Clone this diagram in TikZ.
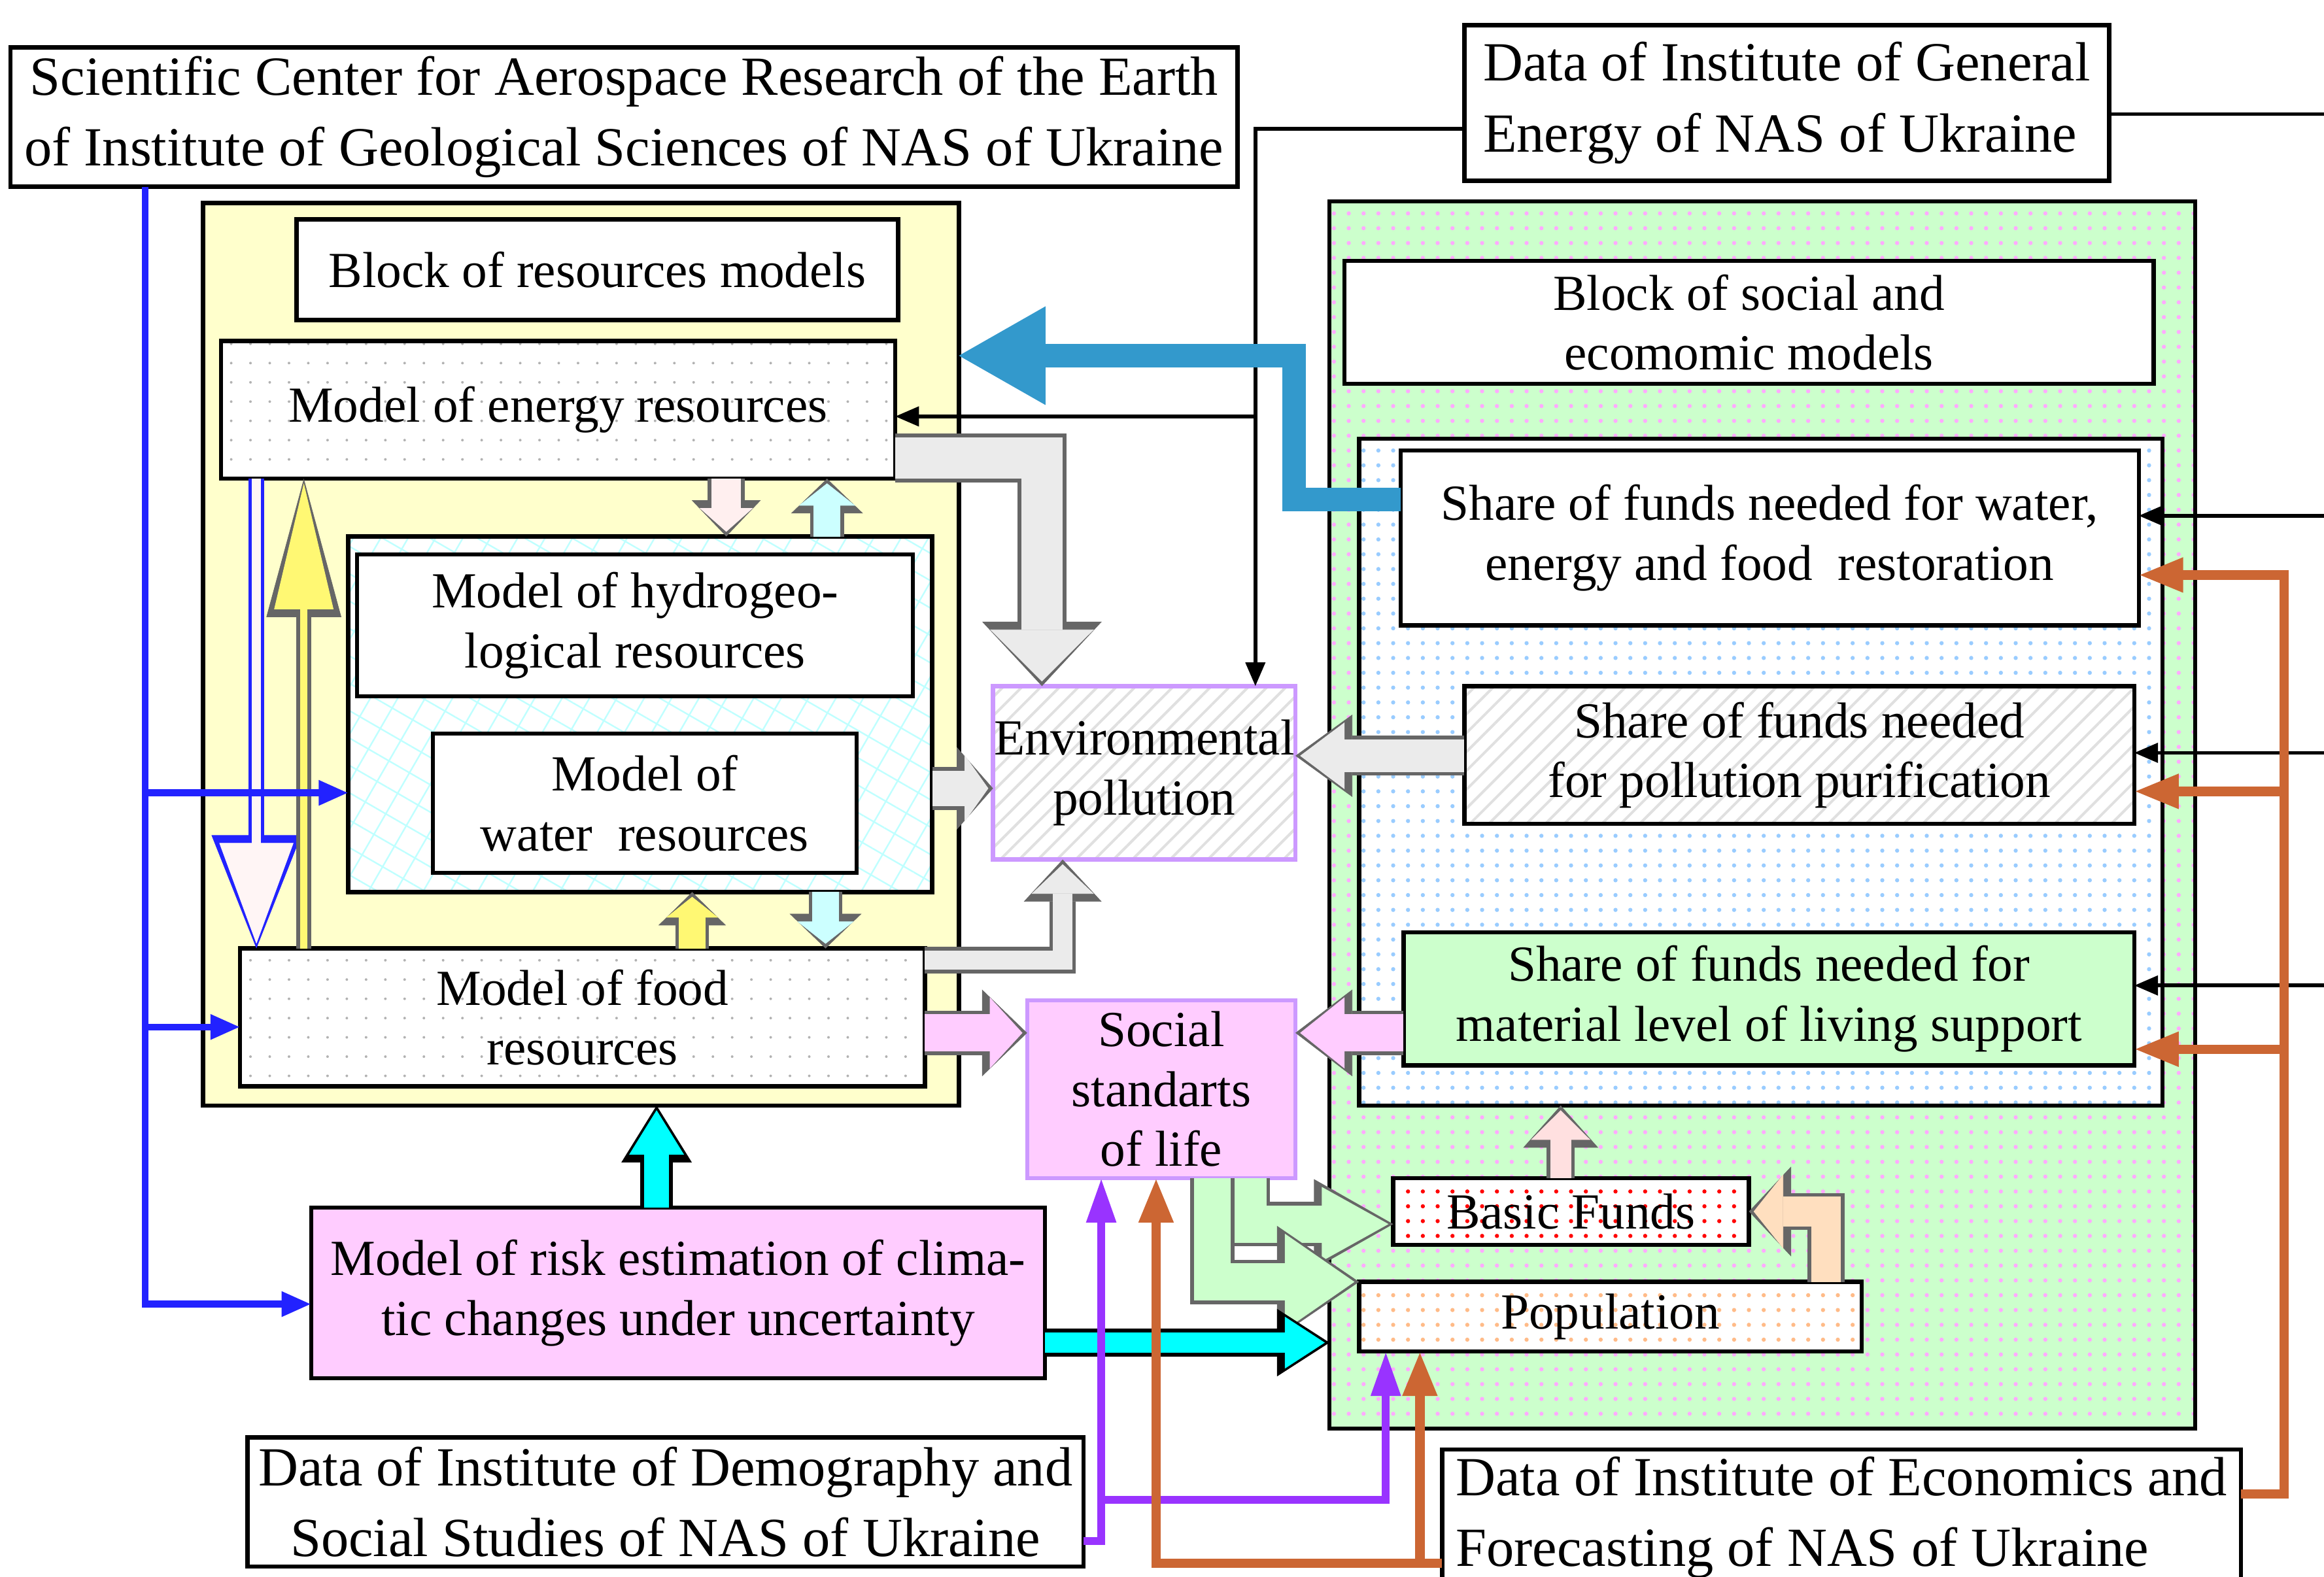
\documentclass[tikz,border=0pt]{standalone}
\usepackage{fontspec}
\setmainfont{Liberation Serif}
\usetikzlibrary{arrows.meta, patterns.meta}

\definecolor{resyellow}{HTML}{FFFFCC}
\definecolor{socgreen}{HTML}{CCFFCC}
\definecolor{pinkbox}{HTML}{FFCCFF}
\definecolor{lilac}{HTML}{CC99FF}
\definecolor{steelblue}{HTML}{3399CC}
\definecolor{rust}{HTML}{CC6633}
\definecolor{violet2}{HTML}{9933FF}
\definecolor{sciblue}{HTML}{2222FF}
\definecolor{aqua}{HTML}{00FFFF}
\definecolor{paleaqua}{HTML}{CCFFFF}
\definecolor{dotblue}{HTML}{99CCFF}
\definecolor{dotpink}{HTML}{FFAAFF}
\definecolor{dotorange}{HTML}{FFBB88}

\newcommand{\datafont}{\fontsize{10.6}{13.6}\selectfont}
\newcommand{\modfont}{\fontsize{9.7}{11.5}\selectfont}

\tikzset{
  wh/.style 2 args={minimum width=#1mm, minimum height=#2mm},
  box/.style={draw, line width=0.8pt, inner sep=0pt, outer sep=0pt, align=center, font=\modfont},
  databox/.style={box, fill=white, font=\datafont},
  dotted grid/.style={preaction={fill=white}, pattern={Dots[distance=1.3mm, radius=0.25pt]}, pattern color=black!30},
  hatched/.style={preaction={fill=white}, pattern={Lines[angle=45, distance=0.9mm, line width=0.5pt]}, pattern color=black!12},
  speckled/.style={preaction={fill=#1}, pattern={Dots[distance=1mm, radius=0.4pt]}},
  lilacbox/.style={box, draw=lilac},
  % thin connectors
  blkln/.style={draw=black, line width=0.7pt, -{Triangle[length=1.6mm, width=1.3mm]}},
  sciln/.style={draw=sciblue, line width=1.3pt, -{Triangle[length=2mm, width=1.6mm]}},
  violetln/.style={draw=violet2, line width=1.5pt, -{Triangle[length=3mm, width=1.9mm]}},
  rustln/.style={draw=rust, line width=1.8pt, -{Triangle[length=3mm, width=2.2mm]}},
  % block arrows: fill, outline, shaft, head width, head length
  fat/.style n args={5}{draw=#1, line width=#3, line join=miter, shorten >=0.9pt,
    -{Triangle[length=#5, width=#4, line width=0.1pt, color=#1, fill=#1]},
    preaction={draw=#2, line width=#3+1.4pt, shorten >=0pt,
      -{Triangle[length=#5+2.4pt, width=#4+3pt, line width=0.1pt, color=#2, fill=#2]}}},
}

\begin{document}
\begin{tikzpicture}[x=0.1mm, y=-0.1mm]
\useasboundingbox (0,0) rectangle (1568,1064);

% data sources
\node[databox, wh={82.8}{9.4}] (sci) at (421,79) {Scientific Center for Aerospace Research of the Earth\\of Institute of Geological Sciences of NAS of Ukraine};
\node[databox, wh={43.5}{10.5}, align=left] (gen) at (1205.5,69.5) {Data of Institute of General\\Energy of NAS of Ukraine};
\node[databox, wh={56.4}{8.7}] (demo) at (449,1013.5) {Data of Institute of Demography and\\Social Studies of NAS of Ukraine};
\node[databox, wh={53.9}{9.2}, align=left] (econ) at (1242.5,1024) {Data of Institute of Economics and\\Forecasting of NAS of Ukraine};

% block of resources models
\node[box, fill=resyellow, wh={51}{60.9}] (resblk) at (392,441.5) {};
\node[box, fill=white, wh={40.6}{6.8}] (resttl) at (403,182) {Block of resources models};
\node[box, dotted grid, wh={45.5}{9.3}] (energy) at (376.5,276.5) {Model of energy resources};
\node[box, preaction={fill=white}, pattern={Hatch[angle=60, distance=1.6mm, line width=0.3pt]}, pattern color=cyan!25, wh={39.4}{24}] (inner) at (432,482) {};
\node[box, fill=white, wh={37.5}{9.6}] (hydro) at (428.5,422) {Model of hydrogeo-\\logical resources};
\node[box, fill=white, wh={28.6}{9.4}] (water) at (435,542) {Model of\\water\ \ resources};
\node[box, dotted grid, wh={46.2}{9.3}] (food) at (393,686.5) {Model of food\\resources};

% block of social and economic models
\node[box, speckled=socgreen, pattern color=dotpink, wh={58.4}{82.8}] (socblk) at (1189,550) {};
\node[box, fill=white, wh={54.6}{8.3}] (socttl) at (1180,217.5) {Block of social and\\ecomomic models};
\node[box, speckled=white, pattern color=dotblue, wh={54.2}{45}] (shares) at (1188,521) {};
\node[box, fill=white, wh={49.8}{11.8}] (restor) at (1194,363) {Share of funds needed for water,\\energy and food\ \ restoration};
\node[box, hatched, wh={45.2}{9.3}] (purif) at (1214,509.5) {Share of funds needed\\for pollution purification};
\node[box, fill=socgreen, wh={49.3}{9}] (living) at (1193.5,674) {Share of funds needed for\\material level of living support};
\node[box, speckled=white, pattern color=red, wh={24}{4.5}] (funds) at (1060,817.5) {Basic Funds};
\node[box, speckled=white, pattern color=dotorange, wh={33.9}{4.7}] (popul) at (1086.5,888.5) {Population};

% middle column
\node[lilacbox, hatched, wh={20.4}{11.7}] (env) at (772,521.5) {Environmental\\pollution};
\node[lilacbox, fill=pinkbox, wh={18.1}{12}] (social) at (783.5,735) {Social\\standarts\\of life};
\node[box, fill=pinkbox, wh={49.5}{11.5}] (risk) at (457.5,872.5) {Model of risk estimation of clima-\\tic changes under uncertainty};

% free ends at the right border
\coordinate (rimA) at (1570,77);
\coordinate (rimB) at (1570,348);
\coordinate (rimC) at (1570,508);
\coordinate (rimD) at (1570,665);

% energy data
\draw[blkln] (gen.west |- 0,87) -| (847,0 |- env.north);
\draw[blkln] (847,281) -- (energy.east |- 0,281);
\draw[line width=0.7pt] (gen.east |- rimA) -- (rimA);
\draw[blkln] (rimB) -- (restor.east |- rimB);
\draw[blkln] (rimC) -- (purif.east |- rimC);
\draw[blkln] (rimD) -- (living.east |- rimD);

% inside the resources block
\draw[fat={pink!15}{sciblue}{0.6mm}{5mm}{6.8mm}] (173,0 |- energy.south) -- (173,0 |- food.north);
\draw[fat={yellow!55}{black!60}{0.5mm}{4mm}{8.5mm}] (205,0 |- food.north) -- (205,0 |- energy.south);
\draw[fat={pink!25}{black!60}{2mm}{3.6mm}{1.6mm}] (490,0 |- energy.south) -- (490,0 |- inner.north);
\draw[fat={paleaqua}{black!60}{1.8mm}{3.8mm}{1.5mm}] (558,0 |- inner.north) -- (558,0 |- energy.south);
\draw[fat={yellow!55}{black!60}{1.8mm}{3.5mm}{1.4mm}] (467,0 |- food.north) -- (467,0 |- inner.south);
\draw[fat={paleaqua}{black!60}{1.8mm}{3.8mm}{1.5mm}] (557,0 |- inner.south) -- (557,0 |- food.north);

% pollution
\draw[fat={black!8}{black!60}{2.8mm}{7mm}{3.5mm}] (energy.east |- 0,309) -| (703,0 |- env.north);
\draw[fat={black!8}{black!60}{2.4mm}{4.5mm}{1.6mm}] (inner.east |- 0,532) -- (env.west |- 0,532);
\draw[fat={black!8}{black!60}{1.3mm}{4.2mm}{2mm}] (food.east |- 0,648) -| (717,0 |- env.south);
\draw[fat={black!8}{black!60}{2.2mm}{4.5mm}{3mm}] (purif.west |- 0,510) -- (env.east |- 0,510);

% social standarts
\draw[fat={pinkbox}{black!60}{2.5mm}{4.8mm}{2.2mm}] (food.east |- 0,697) -- (social.west |- 0,697);
\draw[fat={pinkbox}{black!60}{2.5mm}{4.8mm}{3mm}] (living.west |- 0,697) -- (social.east |- 0,697);

% restoration back to the resources block
\draw[fat={steelblue}{steelblue}{1.1mm}{5.6mm}{5mm}] (restor.west |- 0,337) -| (873,240) -- (resblk.east |- 0,240);

% funds and population
\draw[fat={red!12}{black!60}{1.4mm}{4mm}{2mm}] (1053,0 |- funds.north) -- (1053,0 |- shares.south);
\draw[fat={orange!25}{black!60}{2mm}{5mm}{2mm}] (1232,0 |- popul.north) |- (funds.east);
\draw[fat={socgreen}{black!60}{2.5mm}{5mm}{4.5mm}] (842,0 |- social.south) |- (funds.west |- 0,826);
\draw[fat={socgreen}{black!60}{2.5mm}{6.5mm}{4.7mm}] (818,0 |- social.south) |- (popul.north west);

% climate risk
\draw[fat={aqua}{black}{1.7mm}{3.7mm}{3mm}] (443,0 |- risk.north) -- (443,0 |- resblk.south);
\draw[fat={aqua}{black}{1.4mm}{3.5mm}{2.7mm}] (risk.east |- 0,906) -- (socblk.west |- 0,906);

% aerospace data
\draw[sciln] (98,0 |- sci.south) |- (risk.west |- 0,880);
\draw[sciln] (98,535) -- (inner.west |- 0,535);
\draw[sciln] (98,693) -- (food.west |- 0,693);

% demography data
\draw[violetln] (demo.east |- 0,1040) -| (743,0 |- social.south);
\draw[violetln] (743,1012) -| (935,0 |- popul.south);

% economics data
\draw[rustln] (econ.east |- 0,1008) -| (1541,388) -- (restor.east |- 0,388);
\draw[rustln] (1541,534) -- (purif.east |- 0,534);
\draw[rustln] (1541,708) -- (living.east |- 0,708);
\draw[rustln] (econ.west |- 0,1055) -| (780,0 |- social.south);
\draw[rustln] (958,1055) -- (958,0 |- popul.south);
\end{tikzpicture}
\end{document}
